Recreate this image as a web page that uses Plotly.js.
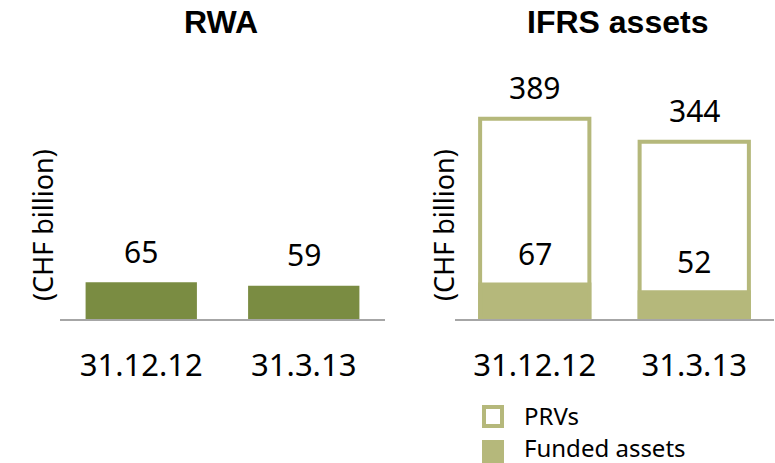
<!DOCTYPE html>
<html>
<head>
<meta charset="utf-8">
<script src="https://cdn.plot.ly/plotly-3.0.1.min.js"></script>
<style>html,body{margin:0;padding:0;background:#fff;}#chart{width:775px;height:463px;}</style>
</head>
<body>
<div id="chart"></div>
<script>
// ---- data ----
const categories = ["31.12.12", "31.3.13"];
const rwaValues = [65, 59];
const prvTotals = [389, 344];
const fundedValues = [67, 52];
const panelTitles = ["RWA", "IFRS assets"];
const yTitle = "(CHF billion)";
const legendNames = ["PRVs", "Funded assets"];

// ---- styles ----
const FONT = "Noto Sans, Open Sans, sans-serif";
const darkGreen = "#7a8c42";
const lightGreen = "#b5b87b";
const W = 775, H = 463;
const px = v => v / W;
const py = v => 1 - v / H;

const traces = [
  { type: "bar", x: categories, y: rwaValues, xaxis: "x", yaxis: "y",
    marker: { color: darkGreen, line: { width: 0 } }, showlegend: false, hoverinfo: "none" },
  { type: "bar", name: legendNames[0], x: categories, y: prvTotals, xaxis: "x2", yaxis: "y2",
    marker: { color: "rgba(255,255,255,1)", line: { color: lightGreen, width: 4 } }, showlegend: false, hoverinfo: "none" },
  { type: "bar", name: legendNames[1], x: categories, y: fundedValues, xaxis: "x2", yaxis: "y2",
    marker: { color: lightGreen, line: { color: lightGreen, width: 4 } }, showlegend: false, hoverinfo: "none" }
];

const annotations = [];
// value labels
const addLabels = (vals, xref, yref) => vals.forEach((v, i) => annotations.push({
  x: categories[i], y: v, xref: xref, yref: yref, text: String(v), showarrow: false,
  yanchor: "middle", yshift: 31, font: { family: FONT, size: 30, color: "#000" }
}));
addLabels(rwaValues, "x", "y");
addLabels(prvTotals, "x2", "y2");
addLabels(fundedValues, "x2", "y2");

// panel titles
const titleFont = { family: "Liberation Sans, Arial, sans-serif", size: 32, color: "#000" };
annotations.push({ x: px(221), y: py(22), xref: "paper", yref: "paper", text: "<b>" + panelTitles[0] + "</b>",
  showarrow: false, xanchor: "center", yanchor: "middle", font: titleFont });
annotations.push({ x: px(617), y: py(22), xref: "paper", yref: "paper", text: "<b>" + panelTitles[1] + "</b>",
  showarrow: false, xanchor: "center", yanchor: "middle", font: titleFont });

// y-axis titles
const yTitleFont = { family: FONT, size: 27, color: "#000" };
annotations.push({ x: px(42), y: py(225), xref: "paper", yref: "paper", text: yTitle, textangle: -90,
  showarrow: false, xanchor: "center", yanchor: "middle", font: yTitleFont });
annotations.push({ x: px(443), y: py(225), xref: "paper", yref: "paper", text: yTitle, textangle: -90,
  showarrow: false, xanchor: "center", yanchor: "middle", font: yTitleFont });

// legend text
const legFont = { family: FONT, size: 24, color: "#000" };
annotations.push({ x: px(523), y: py(415), xref: "paper", yref: "paper", text: legendNames[0], showarrow: false,
  xanchor: "left", yanchor: "middle", borderpad: 0, font: legFont });
annotations.push({ x: px(523), y: py(447), xref: "paper", yref: "paper", text: legendNames[1], showarrow: false,
  xanchor: "left", yanchor: "middle", borderpad: 0, font: legFont });

const shapes = [
  { type: "rect", xref: "paper", yref: "paper", x0: px(484), x1: px(502), y0: py(407), y1: py(426),
    line: { color: lightGreen, width: 4 }, fillcolor: "#fff" },
  { type: "rect", xref: "paper", yref: "paper", x0: px(482), x1: px(504), y0: py(440), y1: py(463),
    line: { width: 0 }, fillcolor: lightGreen }
];

const xbase = {
  showline: true, linecolor: "#a6a6a6", linewidth: 2, ticks: "", showgrid: false, zeroline: false,
  tickfont: { family: FONT, size: 31, color: "#000" }, ticklabelstandoff: 18, fixedrange: true
};
const ybase = {
  showline: false, showgrid: false, zeroline: false, showticklabels: false, ticks: "", fixedrange: true
};

const layout = {
  width: W, height: H,
  margin: { l: 0, r: 0, t: 0, b: 0 },
  paper_bgcolor: "#fff", plot_bgcolor: "rgba(0,0,0,0)",
  barmode: "overlay", bargap: 0.315,
  showlegend: false,
  xaxis: Object.assign({}, xbase, { domain: [px(60), px(385)], anchor: "y" }),
  yaxis: Object.assign({}, ybase, { domain: [py(319), py(60)], range: [0, 458], anchor: "x" }),
  xaxis2: Object.assign({}, xbase, { domain: [px(455), px(774)], anchor: "y2" }),
  yaxis2: Object.assign({}, ybase, { domain: [py(319), py(60)], range: [0, 503], anchor: "x2" }),
  annotations: annotations,
  shapes: shapes
};

Plotly.newPlot("chart", traces, layout, { staticPlot: true, displayModeBar: false });
</script>
</body>
</html>
